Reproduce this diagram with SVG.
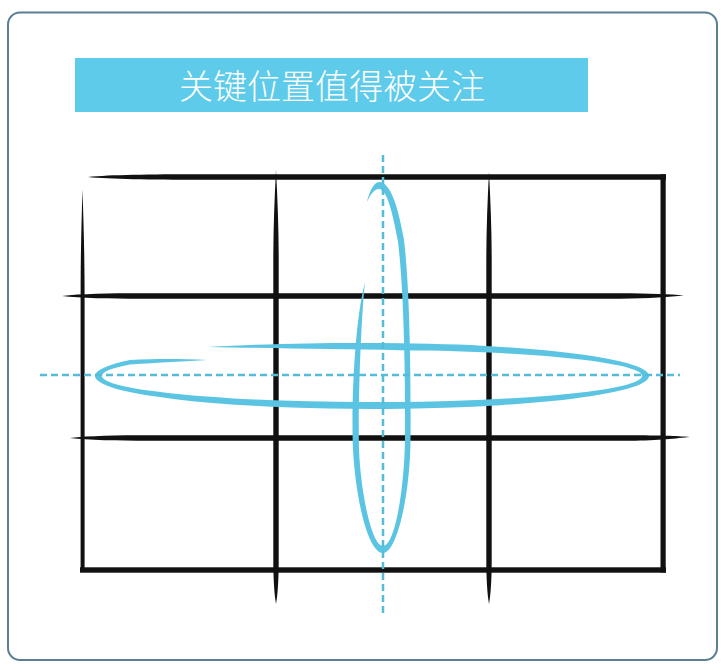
<svg xmlns="http://www.w3.org/2000/svg" width="725" height="667" viewBox="0 0 725 667">
<style>
.ink{fill:#111111}
.blue{fill:#5bc4e3}
.dash{fill:none;stroke:#55bcd8;stroke-width:2.5;stroke-dasharray:7 4}
.title{font-family:"Noto Sans CJK SC","Noto Sans",sans-serif;font-size:34px;font-weight:300;fill:#ffffff}
</style>
<rect x="0" y="0" width="725" height="667" fill="#ffffff"/>
<rect id="frame" x="8" y="12.5" width="709" height="647.5" rx="12" ry="12" fill="#ffffff" stroke="#5a7f93" stroke-width="2"/>
<g id="title">
<rect x="75" y="58" width="513" height="54" fill="#5ecbea"/>
<text class="title" x="332" y="99" text-anchor="middle">关键位置值得被关注</text>
</g>
<g id="grid">
<path class="ink" d="M88,177 C110,174.8 150,174.3 200,174.3 L666,174.3 L666,179.7 L200,179.7 C150,179.7 110,179.2 88,177 Z"/>
<rect class="ink" x="660.5" y="174.3" width="5.2" height="398.2"/>
<rect class="ink" x="80" y="567.3" width="586" height="5.4"/>
<path class="ink" d="M82.5,190 C83.8,230 84.6,260 84.6,300 L84.6,572 L80.6,572 L80.6,300 C80.6,260 81.2,230 82.5,190 Z"/>
<path class="ink" d="M62,296 C80,293.8 110,293.3 140,293.3 L620,293.3 C650,293.3 670,294.3 684,295.5 C670,296.7 650,298.7 620,298.7 L140,298.7 C110,298.7 80,298.2 62,296 Z"/>
<path class="ink" d="M70,438 C88,435.8 118,435.3 148,435.3 L630,435.3 C660,435.3 676,436 690,437 C676,438.2 660,440.7 630,440.7 L148,440.7 C118,440.7 88,440.2 70,438 Z"/>
<path class="ink" d="M276,170 C277.6,200 278.7,230 278.7,260 L278.7,560 C278.7,580 277.6,595 276,604 C274.4,595 273.3,580 273.3,560 L273.3,260 C273.3,230 274.4,200 276,170 Z"/>
<path class="ink" d="M489,172 C490.6,202 491.7,232 491.7,262 L491.7,560 C491.7,580 490.6,595 489,604 C487.4,595 486.3,580 486.3,560 L486.3,262 C486.3,232 487.4,202 489,172 Z"/>
</g>
<g id="horizontal-loop">
<path class="blue" d="M208,347 C280,343 340,342.5 400,343.169 A277 33 0 1 1 130,359.943 C160,358.6 185,359 207,360 C185,361.2 160,362.6 130,364.47 A270 26 0 1 0 400,350.14 C340,349.2 280,348.3 208,347 Z"/>
</g>
<g id="vertical-loop">
<path class="blue" d="M367,202 C369,192 374,182 379,182 C390,182 398,205 404,240 C410,290 411,380 410.5,440 C410,495 397,553 383,553 C368,553 356,500 353,450 C351,400 355,320 365,282 C361,320 358,400 359,450 C361,495 372,546 383,546 C394,546 404,495 405,440 C405.5,380 404,290 398,242 C392,208 386,189 379,189 C374,189 370,195 367,202 Z"/>
</g>
<g id="guides">
<line class="dash" x1="383" y1="155" x2="383" y2="614"/>
<line class="dash" x1="40" y1="375" x2="680" y2="375"/>
</g>
</svg>
